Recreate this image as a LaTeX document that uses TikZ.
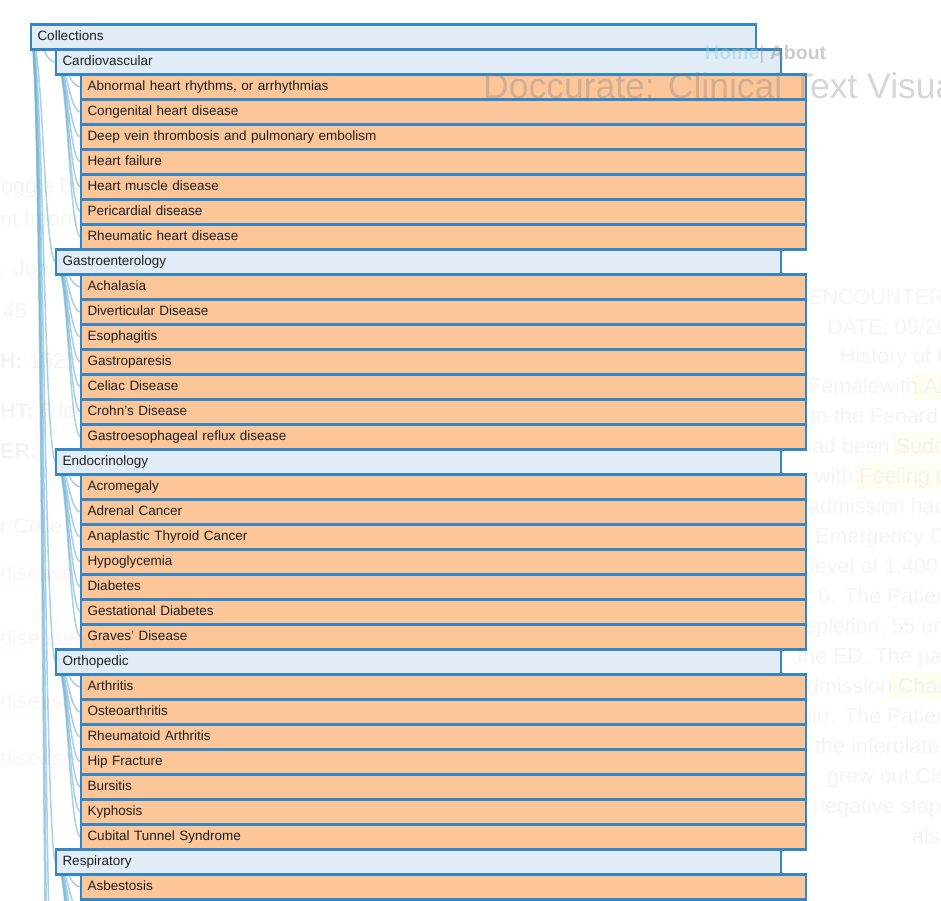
\documentclass[tikz,border=0pt]{standalone}
\usepackage{fontspec}
\setmainfont{Liberation Sans}
\pgfdeclarelayer{bg}
\pgfdeclarelayer{fg}
\pgfsetlayers{bg,main,fg}
\definecolor{boxblue}{RGB}{52,134,198}
\definecolor{pale}{RGB}{225,236,247}
\definecolor{peach}{RGB}{253,198,153}
\definecolor{linkc}{RGB}{110,177,213}
\definecolor{textc}{RGB}{30,30,30}
\definecolor{faint}{RGB}{244,244,244}
\definecolor{faintred}{RGB}{253,243,245}
\definecolor{hilite}{RGB}{255,252,240}
\definecolor{titlec}{RGB}{110,120,135}
\definecolor{homec}{RGB}{150,210,215}
\definecolor{aboutc}{RGB}{140,140,140}
\newcommand\lnk[2]{\draw[linkline] (#1) .. controls ([xshift=12.5pt]#1) and ([xshift=-12.5pt]#2) .. (#2);}
\begin{document}
\begin{tikzpicture}[x=1pt,y=-1pt,
  rowbox/.style={draw=boxblue, line width=2.2pt, anchor=west, outer sep=0pt,
    minimum height=25pt, text width=712pt, inner xsep=6.5pt, inner ysep=0pt,
    align=left, text height=9.7pt, text depth=2.3pt,
    font=\fontsize{13.5}{15}\selectfont, text=textc},
  lv0/.style={rowbox, fill=pale},
  lv1/.style={rowbox, fill=pale},
  lv2/.style={rowbox, fill=peach},
  linkline/.style={draw=linkc, draw opacity=0.6, line width=1.5pt},
  bodytxt/.style={anchor=base west, inner sep=0pt, text=faint, font=\fontsize{21.5}{24}\selectfont},
  redtxt/.style={bodytxt, text=faintred},
  hl/.style={fill=hilite, draw=none}
]
\useasboundingbox (0,0) rectangle (941,900);
\clip (0,0) rectangle (941,900);

% ---------- tree nodes ----------
\node[lv0] (n0) at (31,37) {Collections};
\node[lv1] (n1) at (56,62) {Cardiovascular};
\node[lv2] (n2) at (81,87) {Abnormal heart rhythms, or arrhythmias};
\node[lv2] (n3) at (81,112) {Congenital heart disease};
\node[lv2] (n4) at (81,137) {Deep vein thrombosis and pulmonary embolism};
\node[lv2] (n5) at (81,162) {Heart failure};
\node[lv2] (n6) at (81,187) {Heart muscle disease};
\node[lv2] (n7) at (81,212) {Pericardial disease};
\node[lv2] (n8) at (81,237) {Rheumatic heart disease};
\node[lv1] (n9) at (56,262) {Gastroenterology};
\node[lv2] (n10) at (81,287) {Achalasia};
\node[lv2] (n11) at (81,312) {Diverticular Disease};
\node[lv2] (n12) at (81,337) {Esophagitis};
\node[lv2] (n13) at (81,362) {Gastroparesis};
\node[lv2] (n14) at (81,387) {Celiac Disease};
\node[lv2] (n15) at (81,412) {Crohn’s Disease};
\node[lv2] (n16) at (81,437) {Gastroesophageal reflux disease};
\node[lv1] (n17) at (56,462) {Endocrinology};
\node[lv2] (n18) at (81,487) {Acromegaly};
\node[lv2] (n19) at (81,512) {Adrenal Cancer};
\node[lv2] (n20) at (81,537) {Anaplastic Thyroid Cancer};
\node[lv2] (n21) at (81,562) {Hypoglycemia};
\node[lv2] (n22) at (81,587) {Diabetes};
\node[lv2] (n23) at (81,612) {Gestational Diabetes};
\node[lv2] (n24) at (81,637) {Graves' Disease};
\node[lv1] (n25) at (56,662) {Orthopedic};
\node[lv2] (n26) at (81,687) {Arthritis};
\node[lv2] (n27) at (81,712) {Osteoarthritis};
\node[lv2] (n28) at (81,737) {Rheumatoid Arthritis};
\node[lv2] (n29) at (81,762) {Hip Fracture};
\node[lv2] (n30) at (81,787) {Bursitis};
\node[lv2] (n31) at (81,812) {Kyphosis};
\node[lv2] (n32) at (81,837) {Cubital Tunnel Syndrome};
\node[lv1] (n33) at (56,862) {Respiratory};
\node[lv2] (n34) at (81,887) {Asbestosis};

% off-picture continuation points of the tree
\coordinate (r35) at (81,912);
\coordinate (r36) at (81,937);
\coordinate (r37) at (81,962);
\coordinate (r38) at (81,987);
\coordinate (r39) at (81,1012);
\coordinate (r40) at (81,1037);
\coordinate (x41) at (56,1062);
\coordinate (x49) at (56,1262);
\coordinate (x57) at (56,1462);

% ---------- background: faint page text and links ----------
\begin{pgfonlayer}{bg}
\clip (0,0) rectangle (941,900);
\path[hl] (912,373) rectangle (941,400);
\path[hl] (892,432) rectangle (941,456);
\path[hl] (855,463) rectangle (941,490);
\path[hl] (890,672) rectangle (941,700);
\node[bodytxt] (t1) at (808,304) {ENCOUNTER S};
\node[bodytxt] (t2) at (827,334) {DATE: 09/20/};
\node[bodytxt] (t3) at (840,363) {History of P};
\node[bodytxt] (t4) at (808,393) {Femalewith AID};
\node[bodytxt] (t5) at (810,423) {to the Fenard I};
\node[bodytxt] (t6) at (800,453) {had been Sudd};
\node[bodytxt] (t7) at (815,483) {with Feeling o};
\node[bodytxt] (t8) at (808,513) {admission had};
\node[bodytxt] (t9) at (815,543) {Emergency De};
\node[bodytxt] (t10) at (810,573) {level of 1,400, a};
\node[bodytxt] (t11) at (818,603) {6. The Patient};
\node[bodytxt] (t12) at (797,633) {repletion, 55 uni};
\node[bodytxt] (t13) at (797,663) {the ED. The pati};
\node[bodytxt] (t14) at (795,693) {admission Chan};
\node[bodytxt] (t15) at (800,723) {hirr. The Patient};
\node[bodytxt] (t16) at (815,753) {the inferolater};
\node[bodytxt] (t17) at (827,783) {grew out Clos};
\node[bodytxt] (t18) at (813,813) {negative staph};
\node[bodytxt] (t19) at (912,843) {also};
\node[bodytxt] (l1) at (1,193) {oggle Da};
\node[bodytxt] (l2) at (0,226) {nt Informa};
\node[bodytxt] (l3) at (0,275) {: John};
\node[bodytxt] (l4) at (3,318) {45};
\node[bodytxt] (l5) at (0,368) {\textbf{H:} 1921};
\node[bodytxt] (l6) at (0,418) {\textbf{HT:} 6 fee};
\node[bodytxt] (l7) at (0,458) {\textbf{ER:}};
\node[bodytxt] (l8) at (0,533) {r Colle};
\node[redtxt] (l9) at (0,580) {disease};
\node[redtxt] (l10) at (0,645) {disease2};
\node[redtxt] (l11) at (0,708) {disease};
\node[redtxt] (l12) at (0,765) {disease};
% links
\lnk{n0.west}{n1.west}
\lnk{n0.west}{n9.west}
\lnk{n0.west}{n17.west}
\lnk{n0.west}{n25.west}
\lnk{n0.west}{n33.west}
\lnk{n0.west}{x41}
\lnk{n0.west}{x49}
\lnk{n0.west}{x57}
\foreach \k in {2,...,8} {\lnk{n1.west}{n\k.west}}
\foreach \k in {10,...,16} {\lnk{n9.west}{n\k.west}}
\foreach \k in {18,...,24} {\lnk{n17.west}{n\k.west}}
\foreach \k in {26,...,32} {\lnk{n25.west}{n\k.west}}
\lnk{n33.west}{n34.west}
\foreach \k in {35,...,40} {\lnk{n33.west}{r\k}}
\end{pgfonlayer}

% ---------- overlay page header ----------
\begin{pgfonlayer}{fg}
\clip (0,0) rectangle (941,900);
\node[anchor=base west, inner sep=0pt, opacity=0.45,
  font=\fontsize{19.5}{22}\selectfont] (home) at (705,59.3)
  {\textcolor{homec}{\bfseries Home}\textcolor{aboutc}{| \bfseries About}};
\node[anchor=base west, inner sep=0pt, opacity=0.3, text=titlec,
  font=\fontsize{35.5}{40}\selectfont] (title) at (483,98)
  {Doccurate: Clinical Text Visua};
\end{pgfonlayer}
\end{tikzpicture}
\end{document}
